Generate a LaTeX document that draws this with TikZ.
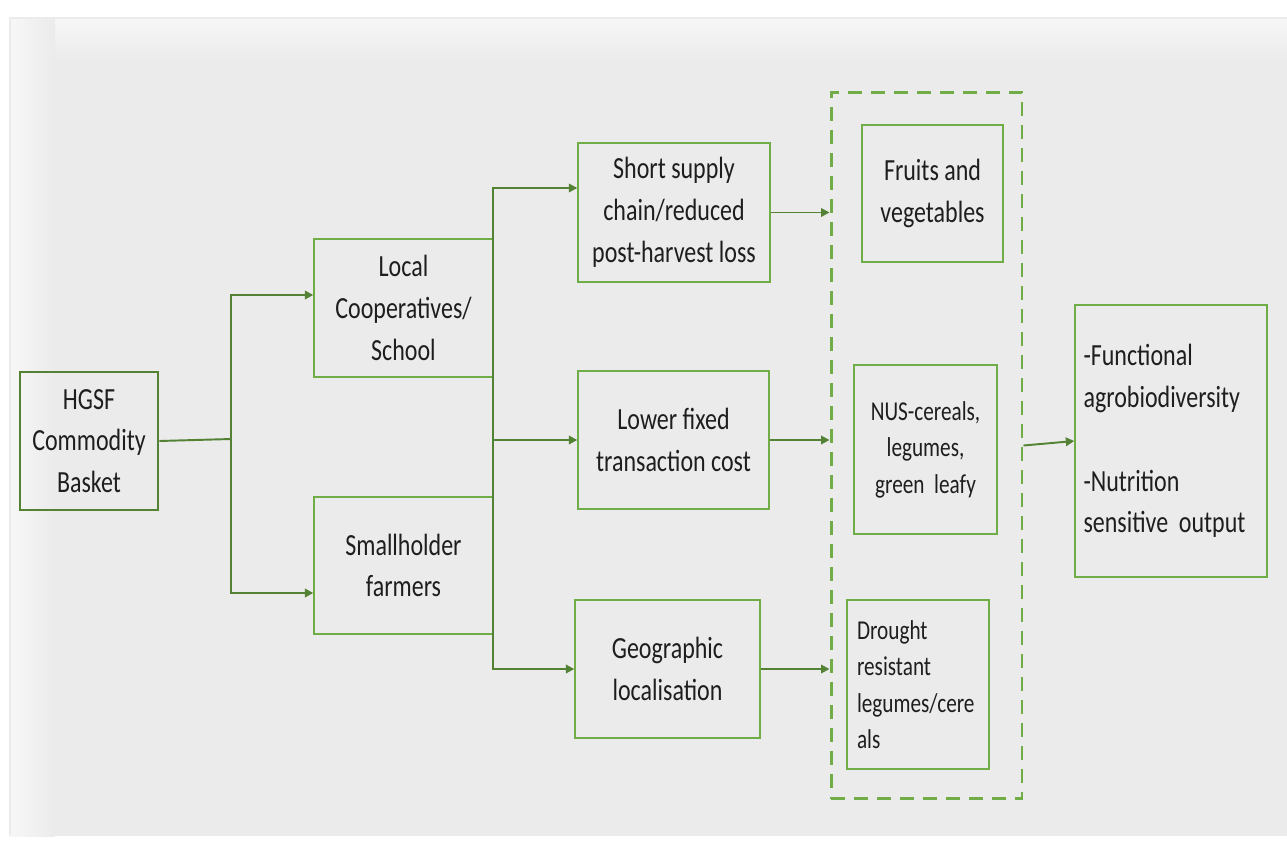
\documentclass[tikz,border=0pt]{standalone}
\usepackage{fontspec}
\setmainfont{Carlito}[FakeStretch=0.78]
\usetikzlibrary{arrows.meta}
\definecolor{bgc}{HTML}{EBEBEB}
\definecolor{boxc}{HTML}{70AD47}
\definecolor{linec}{HTML}{548235}
\definecolor{txtc}{HTML}{1E1E1E}

\begin{document}
\begin{tikzpicture}[x=0.02cm,y=-0.02cm,
  box/.style={draw=boxc,line width=0.8pt,align=center,text=txtc,inner sep=0pt,
    font=\fontsize{17.5}{23.8}\selectfont},
  smallbox/.style={box,font=\fontsize{15.5}{20.8}\selectfont},
  grpbox/.style={draw=boxc,line width=1.7pt,dash pattern=on 0.28cm off 0.18cm},
  link/.style={draw=linec,line width=1.1pt},
  arr/.style={link,-{Triangle[length=0.17cm,width=0.17cm]}}]
\useasboundingbox (0,0) rectangle (1287,842);
\fill[white] (0,0) rectangle (1287,842);
\fill[bgc] (10,18) rectangle (1287,836);
\shade[top color=white!60!bgc,bottom color=bgc] (10,18) rectangle (1287,60);
\shade[left color=white!60!bgc,right color=bgc] (10,18) rectangle (55,836);
\draw[black!8,line width=1pt] (10,836) -- (10,18) -- (1287,18);

\node[box,draw=linec,line width=1.5pt,minimum width=2.76cm,minimum height=2.76cm] (hgsf) at (89,441) {HGSF\\Commodity\\Basket};
\node[box,minimum width=3.58cm,minimum height=2.76cm] (local) at (403.5,308) {Local\\Cooperatives/\\School};
\node[box,minimum width=3.58cm,minimum height=2.74cm] (small) at (403.5,565.5) {Smallholder\\farmers};
\node[box,minimum width=3.84cm,minimum height=2.78cm] (short) at (674,212.5) {Short supply\\chain/reduced\\post-harvest loss};
\node[box,minimum width=3.82cm,minimum height=2.76cm] (lower) at (673.5,440) {Lower fixed\\transaction cost};
\node[box,minimum width=3.70cm,minimum height=2.76cm] (geo) at (667.5,669) {Geographic\\localisation};
\node[grpbox,minimum width=3.82cm,minimum height=14.14cm] (grp) at (926.5,445.5) {};
\node[box,minimum width=2.82cm,minimum height=2.74cm] (fruits) at (932.5,193.5) {Fruits and\\vegetables};
\node[smallbox,minimum width=2.86cm,minimum height=3.38cm] (nus) at (925.5,449.5) {NUS-cereals,\\legumes,\\green~ leafy};
\node[smallbox,align=left,text width=2.44cm,inner xsep=0.2cm,minimum height=3.38cm] (drought) at (918,684.5) {Drought\\resistant\\legumes/cere\\als};
\node[box,align=left,text width=3.5cm,inner xsep=0.17cm,minimum height=5.44cm] (out) at (1171,441) {-Functional\\agrobiodiversity\\[0.84cm]-Nutrition\\\mbox{sensitive\hspace{0.35em}output}};

\coordinate (b1) at (231,439);
\coordinate (b2) at (493,440);
\draw[link] (hgsf.east) -- (b1);
\draw[arr] (b1) |- ([yshift=0.26cm]local.west);
\draw[arr] (b1) |- ([yshift=-0.55cm]small.west);
\draw[arr] (b2) |- ([yshift=0.49cm]short.west);
\draw[arr] (b2) -- (lower.west);
\draw[arr] (b2) |- (geo.west);
\foreach \n in {short,lower,geo}
  \draw[arr] (\n.east) -- (\n.east -| grp.west);
\draw[arr] (grp.east) -- (out.west);
\end{tikzpicture}
\end{document}
